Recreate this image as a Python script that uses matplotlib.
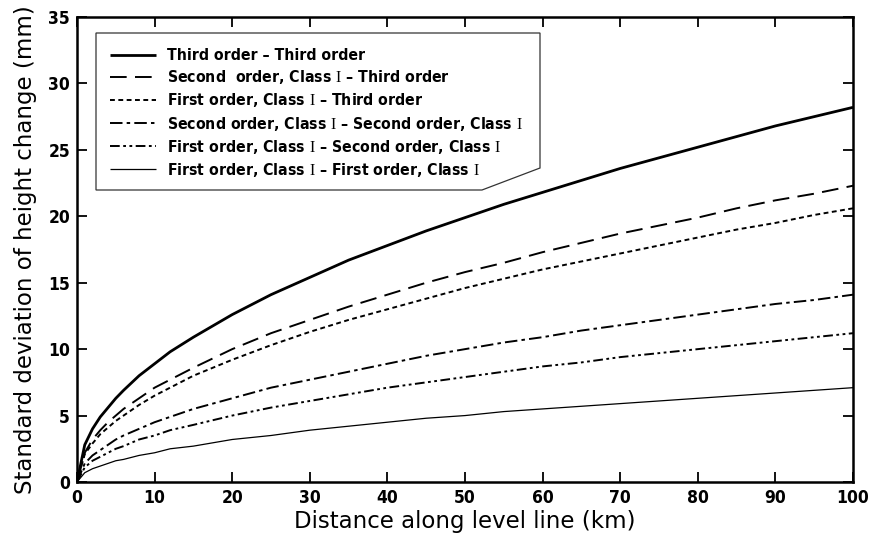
import matplotlib
matplotlib.use("Agg")
import matplotlib.pyplot as plt
from matplotlib.patches import Polygon
from matplotlib.font_manager import FontProperties

plt.rcParams['lines.scale_dashes'] = False
plt.rcParams['mathtext.fontset'] = 'custom'
plt.rcParams['mathtext.rm'] = 'Liberation Serif'

distance = [0, 1, 2, 3, 4, 5, 6, 8, 10, 12, 15, 20, 25, 30, 35, 40, 45, 50,
            55, 60, 65, 70, 75, 80, 85, 90, 95, 100]
third_third = [0, 2.8, 4.0, 4.9, 5.6, 6.3, 6.9, 8.0, 8.9, 9.8, 10.9, 12.6, 14.1, 15.4,
               16.7, 17.8, 18.9, 19.9, 20.9, 21.8, 22.7, 23.6, 24.4, 25.2, 26.0, 26.8, 27.5, 28.2]
second_third = [0, 2.2, 3.2, 3.9, 4.5, 5.0, 5.5, 6.3, 7.1, 7.7, 8.6, 10.0, 11.2, 12.2,
                13.2, 14.1, 15.0, 15.8, 16.5, 17.3, 18.0, 18.7, 19.3, 19.9, 20.6, 21.2, 21.7, 22.3]
first_third = [0, 2.1, 2.9, 3.6, 4.1, 4.6, 5.0, 5.8, 6.5, 7.1, 8.0, 9.2, 10.3, 11.3,
               12.2, 13.0, 13.8, 14.6, 15.3, 16.0, 16.6, 17.2, 17.8, 18.4, 19.0, 19.5, 20.1, 20.6]
second_second = [0, 1.4, 2.0, 2.4, 2.8, 3.2, 3.5, 4.0, 4.5, 4.9, 5.5, 6.3, 7.1, 7.7,
                 8.3, 8.9, 9.5, 10.0, 10.5, 10.9, 11.4, 11.8, 12.2, 12.6, 13.0, 13.4, 13.7, 14.1]
first_second = [0, 1.1, 1.6, 1.9, 2.2, 2.5, 2.7, 3.2, 3.5, 3.9, 4.3, 5.0, 5.6, 6.1,
                6.6, 7.1, 7.5, 7.9, 8.3, 8.7, 9.0, 9.4, 9.7, 10.0, 10.3, 10.6, 10.9, 11.2]
first_first = [0, 0.7, 1.0, 1.2, 1.4, 1.6, 1.7, 2.0, 2.2, 2.5, 2.7, 3.2, 3.5, 3.9,
               4.2, 4.5, 4.8, 5.0, 5.3, 5.5, 5.7, 5.9, 6.1, 6.3, 6.5, 6.7, 6.9, 7.1]

labels = [
    "Third order \u2013 Third order",
    "Second  order, Class $\\mathrm{I}$ \u2013 Third order",
    "First order, Class $\\mathrm{I}$ \u2013 Third order",
    "Second order, Class $\\mathrm{I}$ \u2013 Second order, Class $\\mathrm{I}$",
    "First order, Class $\\mathrm{I}$ \u2013 Second order, Class $\\mathrm{I}$",
    "First order, Class $\\mathrm{I}$ \u2013 First order, Class $\\mathrm{I}$",
]
series = [third_third, second_third, first_third, second_second, first_second, first_first]
styles = [
    dict(lw=2.0, ls='-'),
    dict(lw=1.4, ls=(0, (12, 6))),
    dict(lw=1.4, ls=(0, (3.5, 2.5))),
    dict(lw=1.4, ls=(0, (9, 3, 2.5, 3))),
    dict(lw=1.4, ls=(0, (7, 2.5, 2, 2.5, 2, 2.5))),
    dict(lw=0.9, ls='-'),
]

W, H = 871, 551
fig = plt.figure(figsize=(W / 100, H / 100), dpi=100)
L, R, T, B = 77, 853, 17, 482
ax = fig.add_axes([L / W, 1 - B / H, (R - L) / W, (B - T) / H])

for y, lab, st in zip(series, labels, styles):
    ax.plot(distance, y, color='black', label=lab, solid_capstyle='butt', **st)

ax.set_xlim(0, 100)
ax.set_ylim(0, 35)
ax.set_xticks(range(0, 101, 10))
ax.set_yticks(range(0, 36, 5))
ax.tick_params(direction='in', length=7, width=1.3, top=True, right=True,
               labelsize=12.5, pad=5)
for lbl in ax.get_xticklabels() + ax.get_yticklabels():
    lbl.set_family('DejaVu Sans')
    lbl.set_stretch('condensed')
    lbl.set_fontweight('bold')
for s in ax.spines.values():
    s.set_linewidth(1.8)

ax.set_xlabel("Distance along level line (km)", fontsize=16.5, labelpad=2)
ax.set_ylabel("Standard deviation of height change (mm)", fontsize=16.5, labelpad=8)

legfont = FontProperties(family='DejaVu Sans', weight='bold', stretch='condensed', size=11.3)
leg = ax.legend(loc='upper left', bbox_to_anchor=((110 - L) / (R - L), (B - 48) / (B - T)),
                frameon=False, handlelength=2.9, handletextpad=0.75, labelspacing=0.33,
                prop=legfont, borderaxespad=0, borderpad=0)

def ax_pt(px, py):
    return ((px - L) / (R - L), (B - py) / (B - T))

poly_px = [(96, 33), (540, 33), (540, 168), (482, 190), (96, 190)]
poly = Polygon([ax_pt(*p) for p in poly_px], closed=True, transform=ax.transAxes,
               facecolor='white', edgecolor='#333333', lw=0.9, zorder=2.5)
ax.add_patch(poly)
leg.set_zorder(3)

fig.savefig("out.png", dpi=100)
